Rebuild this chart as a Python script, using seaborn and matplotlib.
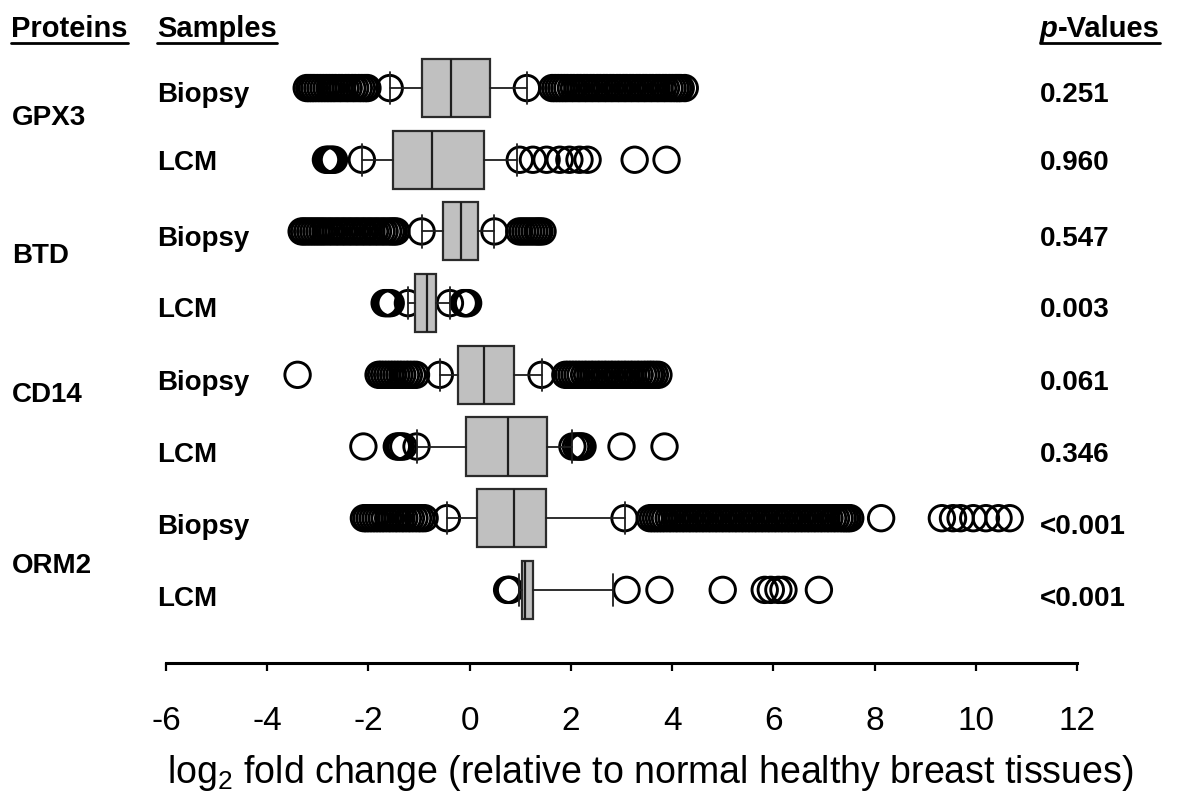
import numpy as np
import pandas as pd
import matplotlib
matplotlib.use("Agg")
import matplotlib.pyplot as plt
from matplotlib.lines import Line2D
import seaborn as sns

# ---------------- data ----------------
proteins = ["GPX3", "BTD", "CD14", "ORM2"]
samples = ["Biopsy", "LCM", "Biopsy", "LCM", "Biopsy", "LCM", "Biopsy", "LCM"]
p_values = ["0.251", "0.960", "0.547", "0.003", "0.061", "0.346", "<0.001", "<0.001"]

q1 = [-0.95, -1.52, -0.53, -1.09, -0.24, -0.08, 0.15, 1.03]
median = [-0.36, -0.75, -0.17, -0.85, 0.28, 0.75, 0.87, 1.10]
q3 = [0.40, 0.28, 0.16, -0.67, 0.87, 1.52, 1.51, 1.26]
whisker_low = [-1.58, -2.13, -0.95, -1.22, -0.59, -1.05, -0.45, 0.97]
whisker_high = [1.13, 0.93, 0.49, -0.39, 1.42, 2.03, 3.06, 2.84]

gpx3_biopsy_out = [-3.22, -3.17, -3.12, -3.07, -3.01, -2.95, -2.89, -2.83, -2.77, -2.71,
                   -2.65, -2.58, -2.52, -2.45, -2.39, -2.32, -2.26, -2.19, -2.13, -2.07,
                   -2.02, -1.58, 1.13, 1.63, 1.69, 1.75, 1.81, 1.87, 1.93, 2.00, 2.06,
                   2.13, 2.19, 2.26, 2.32, 2.39, 2.45, 2.52, 2.58, 2.65, 2.71, 2.78, 2.84,
                   2.91, 2.97, 3.04, 3.10, 3.17, 3.23, 3.30, 3.36, 3.43, 3.49, 3.56, 3.62,
                   3.69, 3.75, 3.82, 3.88, 3.95, 4.01, 4.07, 4.12, 4.17, 4.25]
gpx3_lcm_out = [-2.84, -2.80, -2.76, -2.72, -2.68, -2.13, 0.99, 1.25, 1.52, 1.78, 1.97,
                2.17, 2.33, 3.26, 3.89]
btd_biopsy_out = [-3.32, -3.27, -3.21, -3.15, -3.09, -3.03, -2.97, -2.91, -2.85, -2.78,
                  -2.72, -2.65, -2.59, -2.52, -2.46, -2.39, -2.33, -2.26, -2.20, -2.13,
                  -2.07, -2.00, -1.94, -1.87, -1.81, -1.74, -1.68, -1.61, -1.55, -1.50,
                  -1.45, -0.95, 0.49, 0.98, 1.04, 1.10, 1.16, 1.22, 1.28, 1.34, 1.38, 1.44]
btd_lcm_out = [-1.68, -1.64, -1.60, -1.56, -1.22, -0.39, -0.12, -0.09, -0.06, -0.03]
cd14_biopsy_out = [-3.40, -1.80, -1.75, -1.69, -1.63, -1.57, -1.51, -1.45, -1.39, -1.33,
                   -1.26, -1.20, -1.13, -1.06, -0.59, 1.42, 1.89, 1.95, 2.01, 2.07, 2.13,
                   2.19, 2.26, 2.32, 2.39, 2.45, 2.52, 2.58, 2.65, 2.71, 2.78, 2.84, 2.91,
                   2.97, 3.04, 3.10, 3.17, 3.23, 3.30, 3.36, 3.43, 3.49, 3.55, 3.60, 3.66,
                   3.73]
cd14_lcm_out = [-2.10, -1.44, -1.40, -1.36, -1.31, -1.05, 2.03, 2.10, 2.15, 2.19, 2.23,
                3.00, 3.85]
orm2_biopsy_out = [-2.09, -2.04, -1.98, -1.92, -1.86, -1.80, -1.74, -1.68, -1.61, -1.55,
                   -1.48, -1.42, -1.35, -1.29, -1.22, -1.16, -1.09, -1.02, -0.96, -0.89,
                   -0.45, 3.06, 3.56, 3.62, 3.68, 3.74, 3.80, 3.86, 3.93, 3.99, 4.06,
                   4.12, 4.19, 4.25, 4.32, 4.38, 4.45, 4.51, 4.58, 4.64, 4.71, 4.77, 4.84,
                   4.90, 4.97, 5.03, 5.10, 5.16, 5.23, 5.29, 5.36, 5.42, 5.49, 5.55, 5.62,
                   5.68, 5.75, 5.81, 5.88, 5.94, 6.01, 6.07, 6.14, 6.20, 6.27, 6.33, 6.40,
                   6.46, 6.53, 6.59, 6.66, 6.72, 6.79, 6.85, 6.92, 6.98, 7.05, 7.11, 7.18,
                   7.24, 7.31, 7.37, 7.42, 7.47, 7.52, 8.13, 9.33, 9.55, 9.70, 9.95, 10.20,
                   10.45, 10.67]
orm2_lcm_out = [0.74, 0.77, 0.80, 3.10, 3.75, 5.00, 5.83, 5.95, 6.10, 6.20, 6.90]

outliers = [gpx3_biopsy_out, gpx3_lcm_out, btd_biopsy_out, btd_lcm_out,
            cd14_biopsy_out, cd14_lcm_out, orm2_biopsy_out, orm2_lcm_out]

x_ticks = [-6, -4, -2, 0, 2, 4, 6, 8, 10, 12]

# ---------------- style ----------------
sns.set_style("white")
plt.rcParams["font.family"] = ["Liberation Sans", "DejaVu Sans"]
plt.rcParams["axes.unicode_minus"] = False
plt.rcParams["text.color"] = "black"
plt.rcParams["xtick.color"] = "black"

W, H = 1179, 793
fig = plt.figure(figsize=(W / 100, H / 100), dpi=100)


def fx(px):
    return px / W


def fy(py):
    return 1 - py / H


ax = fig.add_axes([fx(166), fy(663), fx(1077) - fx(166), fy(30) - fy(663)])

# outlier circles (seaborn)
flier_df = pd.DataFrame({
    "value": [v for vals in outliers for v in vals],
    "row": [i for i, vals in enumerate(outliers) for _ in vals],
})
sns.scatterplot(data=flier_df, x="value", y="row", ax=ax, marker="o", s=335,
                color="black", facecolor="none", edgecolor="black",
                linewidth=2.1, legend=False, zorder=1.5)

# boxes from summary statistics
stats = [dict(q1=a, med=m, q3=b, whislo=lo, whishi=hi, fliers=[])
         for a, m, b, lo, hi in zip(q1, median, q3, whisker_low, whisker_high)]
ax.bxp(stats, positions=list(range(len(stats))), widths=0.81,
       orientation="horizontal", patch_artist=True, showfliers=False,
       capwidths=0.45,
       boxprops=dict(facecolor="#c0c0c0", edgecolor="#2b2b2b", linewidth=1.6),
       medianprops=dict(color="#1e1e1e", linewidth=1.6),
       whiskerprops=dict(color="#1e1e1e", linewidth=1.3),
       capprops=dict(color="#1e1e1e", linewidth=1.3))

ax.set_xlim(-6, 12)
ax.set_ylim(8.02, -0.81)
ax.set_xticks(x_ticks)
ax.set_xticklabels([str(t) for t in x_ticks])
ax.set_yticks([])
ax.set_xlabel("")
ax.set_ylabel("")
for s in ["left", "top", "right"]:
    ax.spines[s].set_visible(False)
ax.spines["bottom"].set_linewidth(2.2)
ax.spines["bottom"].set_color("black")
ax.tick_params(axis="x", direction="out", length=6, width=1.6, pad=25,
               labelsize=24, colors="black", bottom=True)
ax.patch.set_alpha(0)

fig.text(fx(650), fy(773),
         r"log$_\mathregular{2}$ fold change (relative to normal healthy breast tissues)",
         ha="center", va="center", fontsize=27)

# ---------------- labels ----------------
lab = dict(fontsize=20, fontweight="bold", va="baseline", ha="left", color="black")
prot_base = [125, 263, 402, 573]
for name, yb in zip(proteins, prot_base):
    fig.text(fx(12), fy(yb), name, **lab)
row_base = [102, 170, 246, 317, 390, 462, 534, 606]
for smp, pv, yb in zip(samples, p_values, row_base):
    fig.text(fx(157), fy(yb), smp, **lab)
    fig.text(fx(1040), fy(yb), pv, **lab)

# headers with underline
head_base = 37
hlab = dict(lab, fontsize=21)
t1 = fig.text(fx(11), fy(head_base), "Proteins", **hlab)
t2 = fig.text(fx(157), fy(head_base), "Samples", **hlab)
tp = fig.text(fx(1040), fy(head_base), "p", fontsize=21, fontweight="bold",
              fontstyle="italic", va="baseline", ha="left", color="black")
fig.canvas.draw()
r = fig.canvas.get_renderer()
bb = tp.get_window_extent(r)
t3 = fig.text(bb.x1 / W, fy(head_base), "-Values", **hlab)
fig.canvas.draw()
for a, b in [(t1, t1), (t2, t2), (tp, t3)]:
    x0 = a.get_window_extent(r).x0
    x1 = b.get_window_extent(r).x1
    fig.add_artist(Line2D([x0 / W, x1 / W], [fy(43), fy(43)], color="black",
                          linewidth=2.0, transform=fig.transFigure))

fig.savefig("out.png", dpi=100)
